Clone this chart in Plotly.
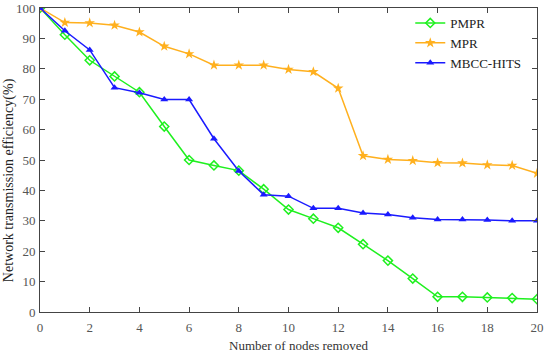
import plotly.graph_objects as go

x_nodes = list(range(21))
pmpr = [100, 91.2, 82.8, 77.5, 72.3, 61.0, 50.0, 48.2, 46.5, 40.4, 33.7, 30.7, 27.7, 22.3, 16.9, 11.0, 5.0, 5.0, 4.8, 4.6, 4.2]
mpr = [100, 95.2, 95.1, 94.3, 92.1, 87.4, 84.9, 81.2, 81.2, 81.2, 79.8, 79.0, 73.6, 51.4, 50.2, 49.8, 49.1, 49.0, 48.4, 48.2, 45.6]
mbcc = [100, 92.5, 86.2, 73.8, 72.1, 69.9, 69.9, 57.0, 46.4, 38.6, 38.1, 34.1, 34.1, 32.6, 32.1, 31.0, 30.4, 30.4, 30.3, 30.0, 30.0]

x_ticks = list(range(0, 21, 2))
y_ticks = list(range(0, 101, 10))
x_title = "Number of nodes removed"
y_title = "Network transmission efficiency(%)"

font_family = "Liberation Serif, Times New Roman, serif"

fig = go.Figure()
fig.add_trace(go.Scatter(x=x_nodes, y=pmpr, name="PMPR", mode="lines+markers",
                         line=dict(color="#1ff01f", width=1.5),
                         marker=dict(symbol="diamond-open", size=7, color="#1ff01f", line=dict(width=1.5))))
fig.add_trace(go.Scatter(x=x_nodes, y=mpr, name="MPR", mode="lines+markers",
                         line=dict(color="#ffb01e", width=1.5),
                         marker=dict(symbol="star", size=8, color="#ffb01e")))
fig.add_trace(go.Scatter(x=x_nodes, y=mbcc, name="MBCC-HITS", mode="lines+markers",
                         line=dict(color="#1a1aff", width=1.5),
                         marker=dict(symbol="triangle-up", size=7, color="#1a1aff")))

axis_common = dict(showgrid=False, zeroline=False, showline=True, linecolor="#444444", linewidth=1,
                   mirror="ticks", ticks="inside", ticklen=5, tickcolor="#444444", automargin=False,
                   tickfont=dict(family=font_family, size=13, color="#555555"))

fig.update_xaxes(range=[0, 20], tickvals=x_ticks, ticklabelstandoff=3, **axis_common)
fig.update_yaxes(range=[0, 100], tickvals=y_ticks, ticklabelstandoff=1, **axis_common)

fig.add_annotation(text=x_title, xref="paper", yref="paper", x=(298 - 40) / 497, y=-(345 - 311.7) / 303.7,
                   xanchor="center", yanchor="middle", showarrow=False,
                   font=dict(family=font_family, size=13, color="#333333"))
fig.add_annotation(text=y_title, xref="paper", yref="paper", x=-(40 - 9) / 497, y=(311.7 - 180) / 303.7,
                   xanchor="center", yanchor="middle", showarrow=False, textangle=-90,
                   font=dict(family=font_family, size=14, color="#222222"))

fig.update_layout(width=550, height=355, margin=dict(l=40, r=13, t=8, b=43),
                  plot_bgcolor="white", paper_bgcolor="white",
                  legend=dict(x=0.745, y=1.0, xanchor="left", yanchor="top", bgcolor="rgba(255,255,255,0)",
                              font=dict(family=font_family, size=13, color="#222222"),
                              tracegroupgap=0, itemwidth=30),
                  showlegend=True)

fig.write_html("out.html", config={"displayModeBar": False},
               post_script="document.body.style.margin='0';document.body.style.overflow='hidden';")
